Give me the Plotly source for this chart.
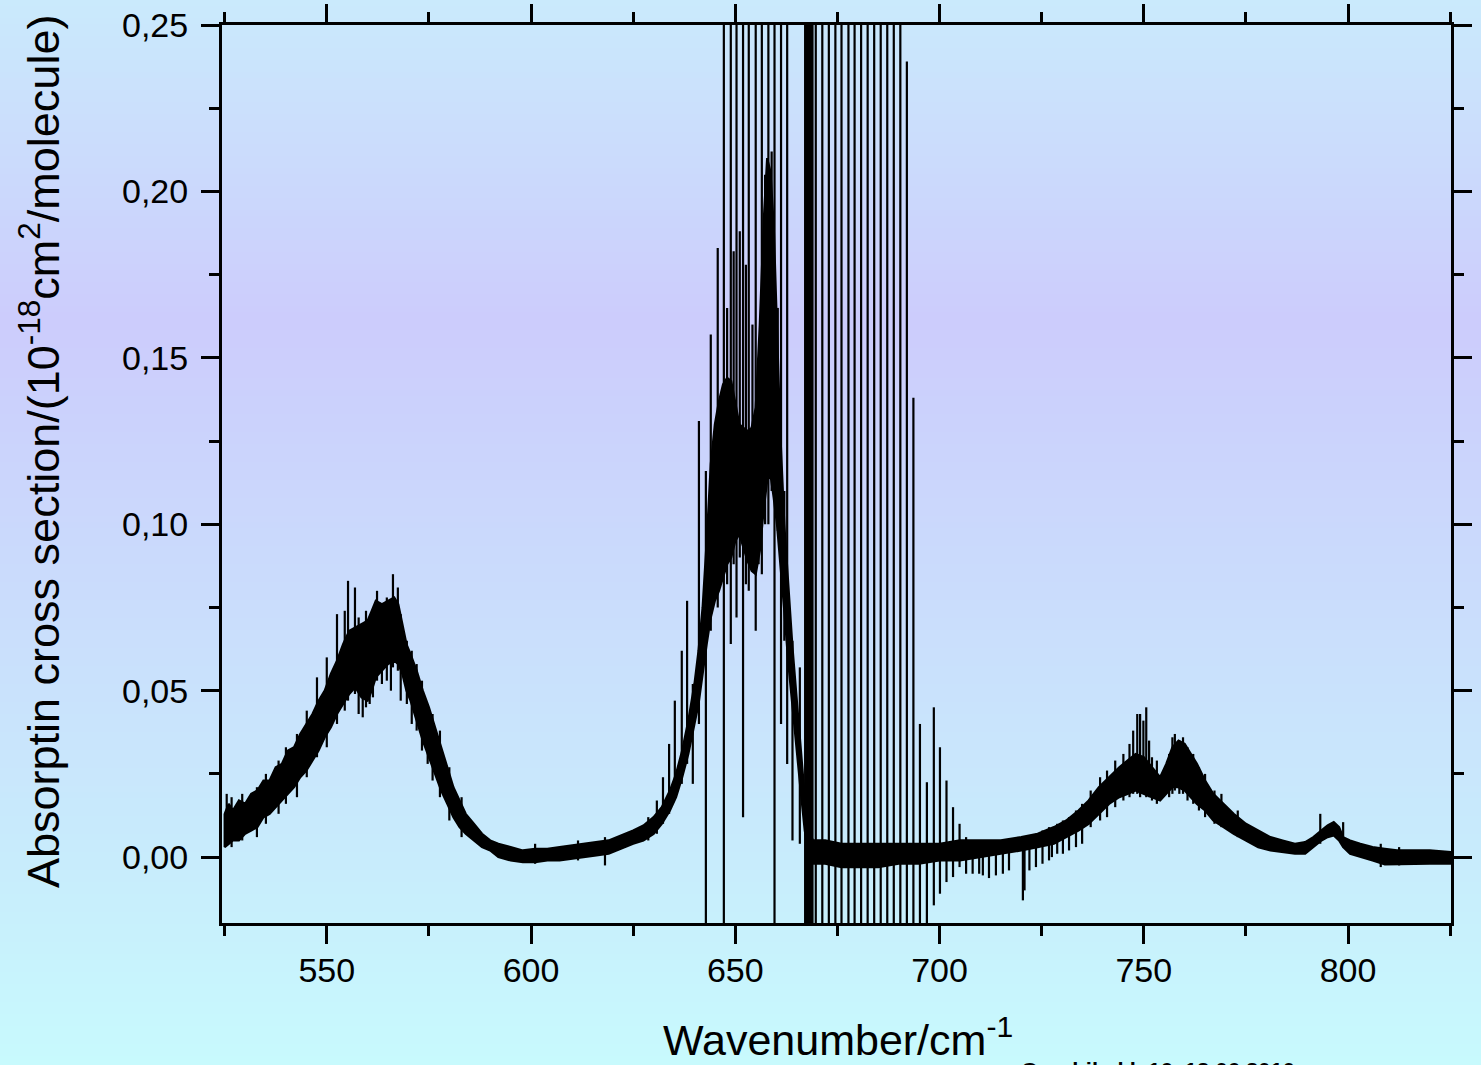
import plotly.graph_objects as go

# ---------------------------------------------------------------
# Absorption cross section spectrum (units of 1e-18 cm^2/molecule)
# ---------------------------------------------------------------

# Continuum band: wavenumber and upper / lower edge of the noisy trace
band_x = [525.0, 526.0, 527.0, 528.5, 530.0, 531.5, 533.0, 534.5, 536.0, 537.5,
          539.0, 540.5, 542.0, 543.5, 545.0, 546.5, 548.0, 549.5, 551.0, 552.5,
          554.0, 555.5, 557.0, 558.5, 560.0, 561.0, 562.0, 563.5, 565.0, 566.5,
          567.5, 568.5, 569.5, 570.5, 572.0, 573.5, 575.0, 576.5, 578.0, 579.5,
          581.0, 582.5, 584.0, 586.0, 588.0, 590.0, 592.0, 595.0, 598.0, 601.0,
          604.0, 607.0, 610.0, 613.0, 616.0, 619.0, 622.0, 625.0, 627.5, 630.0,
          632.0, 634.0, 635.5, 637.0, 638.5, 640.0, 641.0, 642.0, 643.0, 644.0,
          645.0, 646.0, 647.0, 648.0, 649.0, 650.0, 651.0, 652.0, 653.0, 654.0,
          655.0, 656.0, 657.0, 657.8, 658.6, 659.4, 660.2, 661.0, 662.0, 663.0,
          664.0, 665.0, 666.0, 667.0, 668.0, 669.0, 672.0, 676.0, 680.0, 685.0,
          690.0, 695.0, 700.0, 705.0, 710.0, 715.0, 720.0, 724.0, 728.0, 731.0,
          734.0, 736.5, 739.0, 741.5, 744.0, 746.0, 748.0, 750.0, 752.0, 754.0,
          755.5, 757.0, 758.5, 760.0, 761.5, 763.0, 765.0, 767.0, 769.5, 772.0,
          775.0, 778.0, 781.0, 784.0, 787.0, 789.5, 791.5, 793.5, 795.0, 796.5,
          797.8, 798.8, 800.5, 803.0, 806.0, 809.0, 812.0, 816.0, 820.0, 825.0]
band_upper = [0.013, 0.016, 0.014, 0.017, 0.016, 0.019, 0.020, 0.023, 0.023, 0.027,
              0.028, 0.032, 0.033, 0.037, 0.040, 0.043, 0.047, 0.050, 0.055, 0.059,
              0.064, 0.068, 0.069, 0.070, 0.071, 0.074, 0.077, 0.076, 0.077, 0.078,
              0.076, 0.070, 0.064, 0.061, 0.056, 0.050, 0.045, 0.039, 0.033, 0.027,
              0.021, 0.017, 0.013, 0.010, 0.007, 0.005, 0.004, 0.003, 0.002, 0.0025,
              0.0025, 0.003, 0.0035, 0.004, 0.0045, 0.005, 0.0065, 0.008, 0.0095, 0.012,
              0.015, 0.020, 0.025, 0.032, 0.041, 0.052, 0.062, 0.075, 0.095, 0.118,
              0.130, 0.137, 0.142, 0.144, 0.143, 0.137, 0.130, 0.129, 0.128, 0.129,
              0.135, 0.160, 0.192, 0.210, 0.206, 0.190, 0.160, 0.128, 0.100, 0.080,
              0.063, 0.048, 0.033, 0.018, 0.008, 0.005, 0.005, 0.004, 0.004, 0.004,
              0.004, 0.004, 0.004, 0.005, 0.005, 0.005, 0.006, 0.007, 0.009, 0.011,
              0.014, 0.017, 0.021, 0.024, 0.027, 0.029, 0.031, 0.030, 0.027, 0.024,
              0.028, 0.033, 0.035, 0.034, 0.031, 0.028, 0.023, 0.019, 0.016, 0.013,
              0.010, 0.008, 0.006, 0.005, 0.004, 0.0045, 0.006, 0.008, 0.0095, 0.0105,
              0.009, 0.006, 0.005, 0.004, 0.003, 0.0025, 0.002, 0.002, 0.002, 0.0015]
band_lower = [0.003, 0.004, 0.005, 0.005, 0.007, 0.008, 0.009, 0.012, 0.013, 0.015,
              0.017, 0.019, 0.021, 0.024, 0.026, 0.029, 0.032, 0.036, 0.039, 0.043,
              0.046, 0.049, 0.051, 0.048, 0.047, 0.050, 0.054, 0.056, 0.058, 0.059,
              0.058, 0.055, 0.050, 0.047, 0.041, 0.035, 0.030, 0.025, 0.020, 0.016,
              0.012, 0.009, 0.007, 0.005, 0.003, 0.002, 0.000, -0.001, -0.0015, -0.0015,
              -0.001, -0.001, -0.0005, 0.000, 0.0005, 0.001, 0.0025, 0.004, 0.005, 0.007,
              0.010, 0.014, 0.018, 0.024, 0.031, 0.040, 0.046, 0.055, 0.064, 0.072,
              0.077, 0.080, 0.084, 0.088, 0.090, 0.095, 0.097, 0.093, 0.089, 0.086,
              0.085, 0.092, 0.105, 0.113, 0.115, 0.108, 0.100, 0.088, 0.074, 0.058,
              0.045, 0.032, 0.020, 0.008, 0.001, -0.002, -0.002, -0.003, -0.003, -0.003,
              -0.002, -0.002, -0.001, -0.001, 0.000, 0.001, 0.002, 0.003, 0.004, 0.006,
              0.008, 0.010, 0.013, 0.016, 0.018, 0.019, 0.020, 0.019, 0.018, 0.017,
              0.019, 0.021, 0.021, 0.020, 0.018, 0.016, 0.014, 0.011, 0.009, 0.007,
              0.005, 0.003, 0.002, 0.0015, 0.001, 0.001, 0.003, 0.005, 0.006, 0.0065,
              0.005, 0.003, 0.001, 0.000, -0.001, -0.0022, -0.002, -0.002, -0.002, -0.002]

# Individual sharp lines: position, top and bottom of each stroke
line_x = [525.5, 526.7, 529.3, 532.9, 535.1, 538.2, 540.0, 542.7, 545.1, 547.6,
          550.0, 552.5, 554.4, 555.2, 556.9, 557.8, 558.8, 559.6, 560.5, 561.3,
          562.3, 563.5, 564.7, 565.7, 566.2, 567.4, 568.1, 569.6, 570.8, 572.0,
          573.3, 574.7, 575.9, 577.7, 580.0, 583.0,
          601.0, 611.5, 618.1,
          628.7, 630.8, 632.3, 633.8, 635.2, 636.9, 638.2, 639.6, 641.1, 642.8,
          644.0, 645.7, 647.2, 648.0, 648.9, 649.6, 650.3, 651.1, 651.9, 652.6,
          653.3, 654.2, 655.0, 655.7, 656.5, 657.3, 658.1, 658.9, 659.6, 660.4,
          661.2, 662.0, 662.7, 664.0, 665.8,
          667.10, 667.25, 667.40, 667.55, 667.70, 667.85, 668.00, 668.15, 668.30,
          668.45, 668.60, 668.75, 668.90,
          669.7, 671.3, 672.9, 674.5, 676.0, 677.7, 679.2, 680.8, 682.4, 684.0,
          685.6, 687.2, 688.8, 690.4, 692.0, 693.6, 695.2, 696.9, 698.6, 700.1,
          701.7, 703.3, 704.9, 706.5, 708.1, 709.7, 710.6, 712.1, 713.8, 715.5,
          717.0, 720.4, 720.8,
          722.0, 723.6, 725.2, 726.8, 727.5, 728.8, 730.2, 731.7, 733.4, 734.9,
          737.0, 739.3, 741.0, 743.0, 745.0, 746.5, 747.4, 748.4, 749.1, 749.9,
          750.6, 751.3, 752.0, 753.2, 756.2, 757.0, 757.6, 758.7, 759.6, 760.7,
          762.1, 763.5, 765.0, 767.3, 769.0, 773.0,
          793.2, 798.8, 808.0, 812.5]
line_top = [0.019, 0.018, 0.019, 0.021, 0.025, 0.029, 0.033, 0.037, 0.044, 0.054,
            0.060, 0.073, 0.074, 0.083, 0.081, 0.072, 0.066, 0.074, 0.071, 0.069,
            0.080, 0.075, 0.078, 0.076, 0.085, 0.081, 0.073, 0.065, 0.062, 0.058,
            0.053, 0.046, 0.043, 0.038, 0.027, 0.018,
            0.004, 0.005, 0.006,
            0.012, 0.017, 0.024, 0.034, 0.047, 0.062, 0.077, 0.052, 0.131, 0.116,
            0.157, 0.183, 0.30, 0.165, 0.30, 0.182, 0.30, 0.188, 0.30, 0.178,
            0.30, 0.160, 0.30, 0.150, 0.30, 0.205, 0.30, 0.212, 0.30, 0.165,
            0.30, 0.110, 0.30, 0.065, 0.057,
            0.30, 0.30, 0.30, 0.30, 0.30, 0.30, 0.30, 0.30, 0.30,
            0.30, 0.30, 0.30, 0.30,
            0.30, 0.30, 0.30, 0.30, 0.30, 0.30, 0.30, 0.30, 0.30, 0.30,
            0.30, 0.30, 0.30, 0.30, 0.239, 0.138, 0.040, 0.0225, 0.045, 0.033,
            0.023, 0.015, 0.010, 0.006, 0.005, 0.004, 0.003, 0.003, 0.003, 0.004,
            0.004, 0.005, 0.004,
            0.006, 0.007, 0.008, 0.009, 0.009, 0.010, 0.011, 0.012, 0.014, 0.016,
            0.020, 0.024, 0.026, 0.029, 0.031, 0.034, 0.038, 0.043, 0.043, 0.041,
            0.045, 0.035, 0.030, 0.029, 0.031, 0.036, 0.037, 0.035, 0.036, 0.033,
            0.031, 0.027, 0.025, 0.020, 0.019, 0.014,
            0.013, 0.0105, 0.004, 0.003]
line_bottom = [0.004, 0.003, 0.005, 0.006, 0.010, 0.013, 0.016, 0.018, 0.024, 0.030,
               0.033, 0.040, 0.044, 0.047, 0.049, 0.043, 0.042, 0.045, 0.046, 0.048,
               0.053, 0.052, 0.053, 0.050, 0.057, 0.056, 0.047, 0.046, 0.040, 0.038,
               0.032, 0.028, 0.023, 0.018, 0.011, 0.006,
               -0.002, -0.001, -0.0025,
               0.005, 0.007, 0.010, 0.013, 0.019, 0.022, 0.028, 0.022, 0.040, -0.03,
               0.068, 0.075, -0.03, 0.082, 0.064, 0.088, 0.072, 0.090, 0.012, 0.082,
               0.080, 0.086, 0.068, 0.088, 0.085, 0.100, 0.100, 0.110, -0.03, 0.098,
               0.040, 0.065, 0.028, 0.005, 0.004,
               -0.03, -0.03, -0.03, -0.03, -0.03, -0.03, -0.03, -0.03, -0.03,
               -0.03, -0.03, -0.03, -0.03,
               -0.03, -0.03, -0.03, -0.03, -0.03, -0.03, -0.03, -0.03, -0.03, -0.03,
               -0.03, -0.03, -0.03, -0.03, -0.03, -0.03, -0.03, -0.03, -0.0145, -0.011,
               -0.0075, -0.006, -0.003, -0.005, -0.005, -0.005, -0.0055, -0.0063, -0.0055, -0.005,
               -0.004, -0.013, -0.010,
               -0.004, -0.003, -0.002, -0.001, 0.000, 0.001, 0.001, 0.002, 0.003, 0.004,
               0.009, 0.011, 0.012, 0.015, 0.017, 0.018, 0.019, 0.019, 0.018, 0.019,
               0.018, 0.018, 0.017, 0.016, 0.018, 0.019, 0.020, 0.019, 0.019, 0.017,
               0.016, 0.014, 0.012, 0.010, 0.009, 0.006,
               0.004, 0.003, -0.003, -0.0025]

x_ticks = [550, 600, 650, 700, 750, 800]
y_ticks = [0.00, 0.05, 0.10, 0.15, 0.20, 0.25]

# ---------------------------------------------------------------
# Figure geometry
# ---------------------------------------------------------------
W, H = 1481, 1065
ML, MR, MT, MB = 222, 30, 25, 142
PW, PH = W - ML - MR, H - MT - MB
FONT = "Arial, Liberation Sans, sans-serif"


def px_to_paper_x(px):
    return (px - ML) / PW


def px_to_paper_y(py):
    return (H - MB - py) / PH


fig = go.Figure()

# filled band of the dense trace
poly_x = band_x + band_x[::-1] + [band_x[0]]
poly_y = band_upper + band_lower[::-1] + [band_upper[0]]
fig.add_trace(go.Scatter(
    x=poly_x, y=poly_y, mode="lines", fill="toself",
    fillcolor="black", line=dict(color="black", width=2.2),
    hoverinfo="skip", showlegend=False))

# sharp lines as vertical strokes
sx, sy = [], []
for x, t, b in zip(line_x, line_top, line_bottom):
    sx += [x, x, None]
    sy += [b, t, None]
fig.add_trace(go.Scatter(
    x=sx, y=sy, mode="lines", line=dict(color="black", width=2.2),
    hoverinfo="skip", showlegend=False))

# vertical background gradient (light blue -> lavender -> light blue -> cyan)
stops = [(0, (202, 234, 252)), (320, (204, 204, 252)),
         (860, (200, 236, 252)), (1065, (200, 250, 253))]


def colour_at(py):
    for (p0, c0), (p1, c1) in zip(stops[:-1], stops[1:]):
        if p0 <= py <= p1:
            f = (py - p0) / (p1 - p0)
            return "rgb(%d,%d,%d)" % tuple(round(a + (b - a) * f) for a, b in zip(c0, c1))
    return "rgb(%d,%d,%d)" % stops[-1][1]


shapes = []
step = 6
for top in range(0, H, step):
    shapes.append(dict(
        type="rect", xref="paper", yref="paper", layer="below",
        x0=px_to_paper_x(-5), x1=px_to_paper_x(W + 5),
        y0=px_to_paper_y(top + step + 1), y1=px_to_paper_y(top),
        fillcolor=colour_at(top + step / 2), line=dict(width=0)))

axis_common = dict(
    showgrid=False, zeroline=False, showline=True, linecolor="black",
    linewidth=3, mirror="ticks", ticks="outside", ticklen=18, tickwidth=3,
    tickcolor="black", tickfont=dict(family=FONT, size=34, color="black"),
)

fig.update_layout(
    width=W, height=H,
    margin=dict(l=ML, r=MR, t=MT, b=MB, autoexpand=False),
    paper_bgcolor="rgb(200,236,252)",
    plot_bgcolor="rgba(0,0,0,0)",
    separators=", ",
    shapes=shapes,
    xaxis=dict(range=[524.35, 825.2], tickvals=x_ticks,
               minor=dict(ticks="outside", ticklen=10, tickwidth=3,
                          tickcolor="black", dtick=25, tick0=525),
               ticklabelstandoff=-3, **axis_common),
    yaxis=dict(range=[-0.0198, 0.25], tickvals=y_ticks, tickformat=".2f",
               minor=dict(ticks="outside", ticklen=10, tickwidth=3,
                          tickcolor="black", dtick=0.025, tick0=0),
               ticklabelstandoff=6, **axis_common),
    annotations=[
        dict(text="Absorptin cross section/(10<sup>-18</sup>cm<sup>2</sup>/molecule)",
             xref="paper", yref="paper", x=px_to_paper_x(40), y=px_to_paper_y(452),
             xanchor="center", yanchor="middle", textangle=-90, showarrow=False,
             font=dict(family=FONT, size=45, color="black")),
        dict(text="Wavenumber/cm<sup>-1</sup>",
             xref="paper", yref="paper", x=px_to_paper_x(838), y=px_to_paper_y(1037),
             xanchor="center", yanchor="middle", showarrow=False,
             font=dict(family=FONT, size=43, color="black")),
        dict(text="<b>Graphik: kl. 16_12.06.2010</b>",
             xref="paper", yref="paper", x=px_to_paper_x(1158), y=px_to_paper_y(1070),
             xanchor="center", yanchor="middle", showarrow=False,
             font=dict(family=FONT, size=22, color="black")),
    ],
)

fig.write_html("out.html")
